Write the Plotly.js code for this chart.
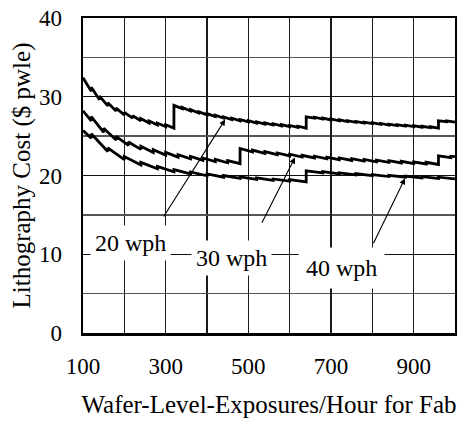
<!DOCTYPE html>
<html>
<head>
<meta charset="utf-8">
<script src="https://cdn.plot.ly/plotly-3.0.1.min.js"></script>
<style>html,body{margin:0;padding:0;background:#fff;}#chart{width:457px;height:421px;}</style>
</head>
<body>
<div id="chart"></div>
<script>
// 20 wph series (sawtooth vertices)
var x20 = [100,120,120,140,140,160,160,180,180,200,200,220,220,240,240,260,260,280,280,300,300,320,320,340,340,360,360,380,380,400,400,420,420,440,440,460,460,480,480,500,500,520,520,540,540,560,560,580,580,600,600,620,620,640,640,660,660,680,680,700,700,720,720,740,740,760,760,780,780,800,800,820,820,840,840,860,860,880,880,900,900,920,920,940,940,960,960,980,980,1000];
var y20 = [32.4,30.70,31.20,29.63,30.08,28.83,29.23,28.20,28.56,27.70,28.02,27.29,27.59,26.95,27.23,26.66,26.92,26.41,26.66,26.20,26.44,26.01,28.90,28.49,28.65,28.20,28.36,27.94,28.10,27.70,27.86,27.49,27.65,27.29,27.45,27.11,27.27,26.95,27.11,26.80,26.96,26.66,26.82,26.53,26.69,26.41,26.57,26.30,26.46,26.20,26.36,26.10,26.26,26.01,27.45,27.29,27.41,27.17,27.29,27.06,27.18,26.95,27.07,26.85,26.97,26.75,26.87,26.66,26.78,26.58,26.70,26.49,26.61,26.41,26.53,26.34,26.46,26.27,26.39,26.20,26.32,26.13,26.25,26.07,26.19,26.01,26.95,26.84,26.94,26.78];

// 30 wph series
var x30 = [100,120,120,150,150,180,180,210,210,240,240,270,270,300,300,330,330,360,360,390,390,420,420,450,450,480,480,510,510,540,540,570,570,600,600,630,630,660,660,690,690,720,720,750,750,780,780,810,810,840,840,870,870,900,900,930,930,960,960,990,990,1000];
var y30 = [28.2,26.94,27.49,25.49,25.99,24.52,24.97,23.83,24.25,23.32,23.72,22.91,23.28,22.59,22.94,22.33,22.63,22.11,22.41,21.92,22.22,21.76,22.06,21.62,21.90,21.50,23.43,23.00,23.22,22.81,23.03,22.64,22.86,22.49,22.71,22.35,22.57,22.23,22.45,22.11,22.33,22.01,22.23,21.91,22.13,21.82,22.04,21.74,21.96,21.66,21.88,21.59,21.81,21.52,21.74,21.46,21.68,21.40,22.50,22.28,22.45,22.39];

// 40 wph series
var x40 = [100,120,120,160,160,200,200,240,240,280,280,320,320,360,360,400,400,440,440,480,480,520,520,560,560,600,600,640,640,680,680,720,720,760,760,800,800,840,840,880,880,920,920,960,960,1000];
var y40 = [25.7,24.75,25.30,23.05,23.50,22.02,22.40,21.34,21.67,20.85,21.15,20.48,20.75,20.20,20.45,19.97,20.20,19.78,20.00,19.63,19.83,19.50,19.70,19.38,19.56,19.29,19.47,19.20,20.60,20.33,20.48,20.20,20.35,20.08,20.23,19.97,20.12,19.87,20.02,19.78,19.93,19.70,19.85,19.63,19.78,19.58];

// tick labels
var xTickVals = [100,300,500,700,900];
var xTickText = ['100','300','500','700','900'];
var xMinorVals = [200,400,600,800,1000];
var yTickVals = [0,10,20,30,40];
var yTickText = ['0','10','20','30','40'];
var yMinorVals = [5,15,25,35];

// labels and arrows
var seriesNames = ['20 wph','30 wph','40 wph'];
var labelX = [216, 460, 725];
var labelY = [11.4, 9.5, 8.25];
var arrowTailX = [293, 531, 801];
var arrowTailY = [14.6, 13.8, 11.2];
var arrowHeadX = [444, 613, 879];
var arrowHeadY = [27.1, 22.3, 19.65];

var FONT = 'Liberation Serif, Times New Roman, serif';
var lineStyle = {color:'#000', width:2.8};

var traces = [
  {x:x20, y:y20, mode:'lines', line:lineStyle, name:seriesNames[0], hoverinfo:'skip'},
  {x:x30, y:y30, mode:'lines', line:lineStyle, name:seriesNames[1], hoverinfo:'skip'},
  {x:x40, y:y40, mode:'lines', line:lineStyle, name:seriesNames[2], hoverinfo:'skip'}
];

var annotations = [];
for (var i = 0; i < 3; i++) {
  annotations.push({
    x: arrowHeadX[i], y: arrowHeadY[i], xref:'x', yref:'y',
    ax: arrowTailX[i], ay: arrowTailY[i], axref:'x', ayref:'y',
    text:'', showarrow:true, arrowhead:2, arrowsize:1.1, arrowwidth:1.1, arrowcolor:'#000'
  });
}
var pads = [4, 4, 7];
for (var j = 0; j < 3; j++) {
  annotations.push({
    x: labelX[j], y: labelY[j], xref:'x', yref:'y',
    text: seriesNames[j], showarrow:false,
    bgcolor:'#fff', borderpad:pads[j],
    font:{family:FONT, size:24, color:'#000'}
  });
}

var layout = {
  width:457, height:421,
  margin:{l:83, r:2, t:18, b:88, pad:0},
  paper_bgcolor:'#fff', plot_bgcolor:'#fff',
  showlegend:false,
  font:{family:FONT, color:'#000'},
  xaxis:{
    range:[100,1000], tickmode:'array', tickvals:xTickVals, ticktext:xTickText,
    showgrid:true, gridcolor:'#1a1a1a', gridwidth:1.2,
    minor:{tickmode:'array', tickvals:xMinorVals, showgrid:true, gridcolor:'#1a1a1a', gridwidth:1.2, ticks:''},
    showline:true, mirror:true, linecolor:'#000', linewidth:2.5,
    zeroline:false, ticks:'', ticklabelstandoff:11,
    tickfont:{family:FONT, size:23, color:'#000'},
    title:{text:'Wafer-Level-Exposures/Hour for Fab', font:{family:FONT, size:25, color:'#000'}, standoff:18},
    automargin:false, fixedrange:true
  },
  yaxis:{
    range:[0,40], tickmode:'array', tickvals:yTickVals, ticktext:yTickText,
    showgrid:true, gridcolor:'#111', gridwidth:1.4,
    minor:{tickmode:'array', tickvals:yMinorVals, showgrid:true, gridcolor:'#555', gridwidth:1.3, ticks:''},
    showline:true, mirror:true, linecolor:'#000', linewidth:2.5,
    zeroline:false, ticks:'', ticklabelstandoff:14,
    tickfont:{family:FONT, size:23, color:'#000'},
    title:{text:'Lithography Cost ($ pwle)', font:{family:FONT, size:25, color:'#000'}, standoff:1},
    automargin:false, fixedrange:true
  },
  annotations: annotations
};

Plotly.newPlot('chart', traces, layout, {staticPlot:true, displayModeBar:false});
</script>
</body>
</html>
